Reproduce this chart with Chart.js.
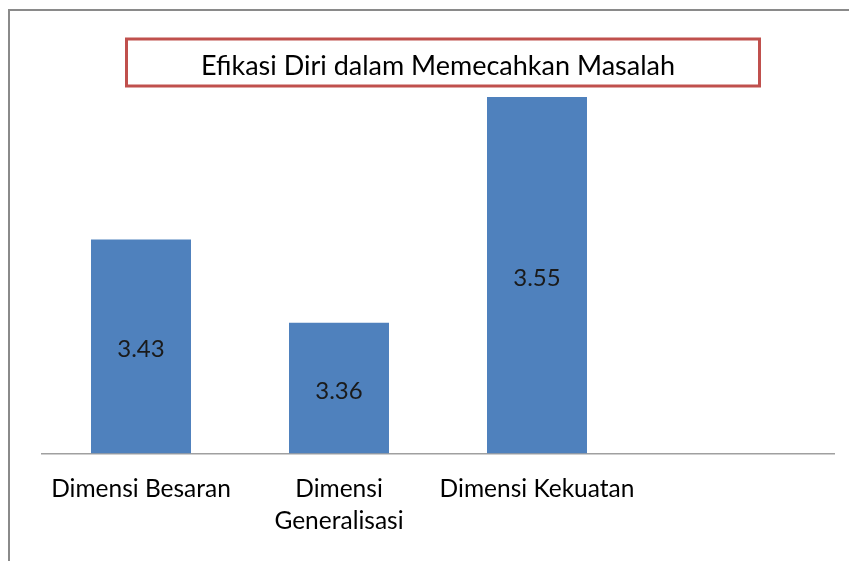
<!DOCTYPE html>
<html>
<head>
<meta charset="utf-8">
<script src="https://cdn.jsdelivr.net/npm/chart.js@4.4.1/dist/chart.umd.min.js"></script>
<style>
html,body{margin:0;padding:0;background:#fff;}
canvas{display:block;}
</style>
</head>
<body>
<canvas id="c" width="849" height="561"></canvas>
<script>
const titleText = "Efikasi Diri dalam Memecahkan Masalah";
const categories = ["Dimensi Besaran", ["Dimensi", "Generalisasi"], "Dimensi Kekuatan", ""];
const values = [3.43, 3.36, 3.55, null];
const valueLabels = ["3.43", "3.36", "3.55"];

const FONT = "Lato, 'Open Sans', sans-serif";

const framePlugin = {
  id: 'frame',
  beforeDraw(chart) {
    const ctx = chart.ctx;
    ctx.save();
    ctx.fillStyle = '#fff';
    ctx.fillRect(0, 0, chart.width, chart.height);
    ctx.strokeStyle = '#8a8a8a';
    ctx.lineWidth = 2;
    ctx.beginPath();
    ctx.moveTo(9, chart.height);
    ctx.lineTo(9, 10);
    ctx.lineTo(chart.width, 10);
    ctx.stroke();
    ctx.restore();
  },
  afterDraw(chart) {
    const ctx = chart.ctx;
    const tb = chart.titleBlock;
    ctx.save();
    ctx.strokeStyle = '#C0504D';
    ctx.lineWidth = 3;
    const cx = (tb.left + tb.right) / 2 + 5;
    const w = 633, h = 47;
    ctx.strokeRect(cx - w / 2, 39, w, h);
    // value labels centred in bars
    const xs = chart.scales.x, ys = chart.scales.y;
    ctx.fillStyle = '#1a1a1a';
    ctx.font = "24px " + FONT;
    ctx.textAlign = 'center';
    ctx.textBaseline = 'middle';
    for (let i = 0; i < values.length; i++) {
      if (values[i] == null) continue;
      const x = xs.getPixelForValue(i);
      const top = ys.getPixelForValue(values[i]);
      const y = (top + ys.bottom) / 2 + 3;
      ctx.fillText(valueLabels[i], x, y);
    }
    ctx.restore();
  }
};

new Chart(document.getElementById('c'), {
  type: 'bar',
  data: {
    labels: categories,
    datasets: [{
      data: values,
      backgroundColor: '#4F81BD',
      borderWidth: 0,
      categoryPercentage: 0.505,
      barPercentage: 1.0
    }]
  },
  options: {
    responsive: false,
    animation: false,
    devicePixelRatio: 1,
    layout: { padding: { left: 42, right: 15, top: 0, bottom: 4 } },
    plugins: {
      legend: { display: false },
      tooltip: { enabled: false },
      title: {
        display: true,
        text: titleText,
        color: '#000',
        font: { family: FONT, size: 27, weight: 'normal', lineHeight: 1.2 },
        padding: { top: 50, bottom: 14.6 }
      }
    },
    scales: {
      x: {
        grid: { display: false, drawTicks: false },
        border: { display: true, color: '#a0a0a0', width: 1.5 },
        ticks: {
          color: '#000',
          font: { family: FONT, size: 24.5, lineHeight: 1.3 },
          padding: 20,
          maxRotation: 0,
          autoSkip: false
        }
      },
      y: {
        display: false,
        min: 3.25,
        max: 3.55
      }
    }
  },
  plugins: [framePlugin]
});
</script>
</body>
</html>
